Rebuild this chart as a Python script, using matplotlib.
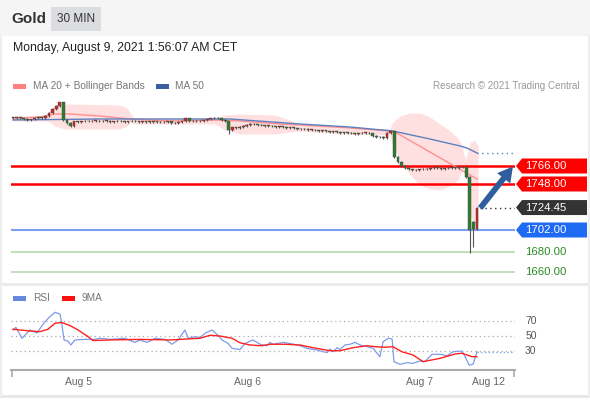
import matplotlib
matplotlib.use('Agg')
import matplotlib.pyplot as plt
import numpy as np
from matplotlib.patches import Rectangle, Polygon
from matplotlib.transforms import blended_transform_factory

plt.rcParams['font.family'] = ['Liberation Sans', 'DejaVu Sans']

W, H = 590, 400

# ---------------- data ----------------
closes = [1814, 1814.5, 1813.5, 1813, 1812, 1812.5, 1814, 1814.5, 1814, 1816,
          1819, 1823, 1826, 1829.5, 1812, 1809, 1806, 1810.5, 1810, 1810.5,
          1811, 1810.5, 1811, 1811, 1810.5, 1811, 1811, 1810, 1810.5, 1811,
          1810.5, 1810, 1810.5, 1811, 1810.5, 1810, 1810, 1810.5, 1810, 1810.5,
          1810, 1809.5, 1810, 1810.5, 1808.5, 1809, 1810, 1810.5, 1813.5, 1811,
          1810.5, 1811, 1810.5, 1811.5, 1812.5, 1813.5, 1814, 1813.5, 1812, 1810.5,
          1802, 1804.5, 1804, 1805, 1806, 1807, 1808, 1807.5, 1807, 1806.5,
          1806, 1806, 1805.5, 1805, 1805.5, 1805, 1804, 1804.5, 1803.5, 1803,
          1802.5, 1803, 1802, 1802, 1801.5, 1801, 1801.5, 1800.5, 1800, 1800.5,
          1799.5, 1799, 1799.5, 1799, 1798.5, 1798, 1798.5, 1799, 1799, 1798.5,
          1796, 1794.5, 1795, 1794, 1799, 1800.5, 1775, 1770, 1766, 1764,
          1762.5, 1762, 1761.5, 1762.5, 1763, 1762.5, 1764, 1764.5, 1764, 1763,
          1763.5, 1764, 1764.5, 1764, 1765, 1764.5, 1755, 1702, 1703, 1724.45]
open_overrides = {128: 1710}
high_overrides = {106: 1801, 127: 1756}
low_overrides = {60: 1798, 127: 1679, 128: 1685}

band_x = [0, 8.9, 10.3, 11.7, 14.5, 29.7, 31.7, 32.8, 33.6, 56.2, 58.9, 63.1, 72.8, 77.0,
          79.8, 92.3, 104.8, 105.6, 107.6, 110.4, 113.2, 115.9, 118.7, 121.5, 123.7,
          124.8, 125.4, 125.9, 126.5, 127.1, 128.2, 129.3]
band_upper = [1816, 1816, 1822, 1826, 1828, 1827, 1824, 1818, 1814, 1814, 1817, 1818, 1817, 1812,
              1807, 1804, 1803, 1810, 1816, 1819, 1819, 1815, 1808, 1801, 1794,
              1787, 1777, 1772, 1782, 1790, 1792, 1787]
band_lower = [1811, 1811, 1810, 1806, 1803, 1803, 1806, 1810, 1808, 1808, 1802, 1798, 1798, 1800,
              1801, 1798, 1797, 1787, 1772, 1757, 1747, 1743, 1742, 1746, 1752,
              1760, 1767, 1764, 1742, 1717, 1707, 1710]

ma20_x = [0, 7.5, 11.7, 15.8, 24.2, 32.5, 43.6, 56.2, 63.1, 74.2, 79.8, 93.7, 104.8, 106.2, 129]
ma20_y = [1814, 1815, 1818, 1818, 1816, 1813, 1811, 1812, 1811, 1808, 1807, 1804, 1801, 1800, 1753]

ma50_x = [0, 24.2, 60.3, 79.8, 93.7, 105.6, 115.9, 124.3, 126.2, 129]
ma50_y = [1812, 1813, 1813, 1808, 1805, 1801, 1793, 1786, 1784, 1779]

rsi_x = [0.0, 0.8, 2.5, 4.7, 5.6, 6.7, 7.5, 8.9, 10.3, 11.7, 13.1, 13.6, 14.2, 15.3, 16.1, 17.2,
         20.0, 22.8, 24.2, 27.0, 31.1, 33.9, 35.3, 37.3, 39.5, 42.3, 44.2, 45.9, 47.8, 48.7,
         50.6, 52.0, 53.4, 55.3, 57.0, 58.1, 59.8, 60.9, 63.1, 64.5, 65.9, 66.7, 68.7, 70.6,
         71.4, 72.3, 75.1, 77.8, 79.8, 81.7, 84.5, 87.3, 88.1, 89.0, 90.1, 90.9, 92.3, 93.7,
         95.1, 96.5, 98.4, 100.1, 102.0, 102.9, 104.3, 105.4, 105.9, 107.6, 109.5, 111.2,
         113.1, 114.5, 116.5, 118.7, 120.7, 122.3, 124.8, 125.7, 126.8, 127.9, 129.0]
rsi_v = [58, 61.6, 47, 58, 56, 54, 60, 69, 76, 81.6, 79, 65, 44.7, 43, 38, 44.7,
         45.5, 45.5, 47, 45.5, 47, 41.5, 44.7, 41.5, 47, 45.5, 39, 44.7, 58, 47,
         49, 48, 53.6, 58, 51, 44.7, 40, 33.6, 32, 40, 43, 44.7, 39, 37,
         41.5, 39, 41.5, 39.3, 37, 33.6, 31.3, 27.8, 32.6, 29, 34.4, 32.2, 38, 39,
         41.5, 38, 35.8, 33.6, 22.4, 42.4, 47, 46, 15.8, 12.2, 14.4, 13.6,
         16.7, 15.8, 25.6, 25.6, 23.7, 29, 30, 22.4, 11.3, 12.2, 29]

ma9_x = [0, 4.7, 7.5, 9.7, 11.7, 13.6, 15.8, 18.1, 20.9, 22.2, 27.0, 35.3, 43.6, 52.0, 54.8,
         57.5, 60.9, 63.1, 65.9, 69.2, 71.4, 75.6, 79.8, 83.4, 88.1, 90.9, 94.5, 98.4,
         100.6, 103.4, 105.6, 108.1, 111.2, 114.0, 118.7, 122.9, 124.8, 127.6, 129.0]
ma9_v = [59, 56.7, 55.8, 59, 67, 68, 64, 58, 49, 44, 44.7, 45.5, 44.7, 47, 51,
         50, 47, 41, 38, 37, 39, 39, 38, 34.4, 30.4, 30.4, 34.4, 37,
         35.8, 35, 35.8, 29, 24.7, 15.8, 20.2, 26, 27, 22.4, 22.4]

tick_pos = [18.1, 65.1, 112.9, 132.1]
tick_labels = ['Aug 5', 'Aug 6', 'Aug 7', 'Aug 12']

res_levels = [1766.00, 1748.00]
sup_level = 1702.00
last_price = 1724.45
green_levels = [1680.00, 1660.00]
rsi_levels = [70, 50, 30]

# ---------------- figure ----------------
fig = plt.figure(figsize=(W / 100, H / 100), dpi=100)
fig.patch.set_facecolor('white')

def fx(x):
    return x / W

def fy(y):
    return 1 - y / H

# header band
fig.patches.append(Rectangle((0, fy(36)), 1, 36 / H, transform=fig.transFigure,
                             facecolor='#f5f5f5', edgecolor='none', zorder=0))
fig.patches.append(Rectangle((fx(51), fy(31)), 50 / W, 24 / H, transform=fig.transFigure,
                             facecolor='#dcdde1', edgecolor='none', zorder=1))
fig.text(fx(11), fy(19), 'Gold', fontsize=11, fontweight='bold', color='#333333', va='center')
fig.text(fx(76), fy(19), '30 MIN', fontsize=8.5, color='#333333', va='center', ha='center')
fig.text(fx(13), fy(48), 'Monday, August 9, 2021 1:56:07 AM CET', fontsize=8.8,
         color='#222222', va='center')

# separators / frame
fig.add_artist(plt.Line2D([0, 1], [fy(284), fy(284)], transform=fig.transFigure,
                          color='#eaeaea', lw=2))
fig.add_artist(plt.Line2D([0, 1], [fy(396), fy(396)], transform=fig.transFigure,
                          color='#e6e6e6', lw=2))
fig.add_artist(plt.Line2D([fx(1), fx(1)], [fy(36), fy(396)], transform=fig.transFigure,
                          color='#eeeeee', lw=1.5))
fig.add_artist(plt.Line2D([fx(589), fx(589)], [fy(36), fy(396)], transform=fig.transFigure,
                          color='#eeeeee', lw=1.5))

# legends
def swatch(x, y, color):
    fig.patches.append(Rectangle((fx(x), fy(y + 2.5)), 13 / W, 5 / H, transform=fig.transFigure,
                                 facecolor=color, edgecolor='none'))

swatch(13, 86, '#ff8080')
fig.text(fx(33), fy(86), 'MA 20 + Bollinger Bands', fontsize=7.3, color='#777777', va='center')
swatch(156, 86, '#3a5fa0')
fig.text(fx(175), fy(86), 'MA 50', fontsize=7.3, color='#777777', va='center')
fig.text(fx(580), fy(86), 'Research \u00a9 2021 Trading Central', fontsize=7.1, color='#999999',
         va='center', ha='right')
swatch(13, 298, '#6688dd')
fig.text(fx(33), fy(298), 'RSI', fontsize=7.3, color='#777777', va='center')
swatch(62, 298, '#ff1010')
fig.text(fx(82), fy(298), '9MA', fontsize=7.3, color='#777777', va='center')

# ---------------- main price axes ----------------
XL = (-0.556, 139.56)
ax = fig.add_axes([fx(11), fy(285), 504 / W, 205 / H])
ax.set_xlim(*XL)
ax.set_ylim(1647, 1852)
ax.axis('off')
tr = blended_transform_factory(ax.transAxes, ax.transData)

ax.fill_between(band_x, band_lower, band_upper, color='#ffe0e0', lw=0, zorder=1)
ax.plot(ma20_x, ma20_y, color='#ff9090', lw=1.0, zorder=3)
ax.plot(ma50_x, ma50_y, color='#5f7fc0', lw=1.0, zorder=3)
ax.plot([ma50_x[-1], XL[1]], [ma50_y[-1], ma50_y[-1]], color='#5f7fc0', lw=1.0,
        ls=(0, (1, 2.5)), zorder=3)

n = len(closes)
xs = np.arange(n)
opens = [closes[0]] + closes[:-1]
for k, v in open_overrides.items():
    opens[k] = v
for i in range(n):
    o, c = opens[i], closes[i]
    hi = high_overrides.get(i, max(o, c) + 0.8)
    lo = low_overrides.get(i, min(o, c) - 0.8)
    up = c >= o
    col = '#cc2a2a' if up else '#2e7d2e'
    ax.vlines(xs[i], lo, hi, color='#555555', lw=0.8, zorder=4)
    h = max(abs(c - o), 0.9)
    ax.bar(xs[i], h, bottom=min(o, c), width=0.75, color=col, edgecolor='#444444',
           linewidth=0.3, zorder=5)

# levels
for lv in res_levels:
    ax.axhline(lv, color='#ff0000', lw=1.8, zorder=2)
ax.axhline(sup_level, color='#7b9ff0', lw=1.5, zorder=2)
for lv in green_levels:
    ax.axhline(lv, color='#b9d9ae', lw=1.2, zorder=2)
ax.plot([n - 0.2, XL[1]], [last_price, last_price], color='#333333', lw=1.0,
        ls=(0, (1, 2.5)), zorder=3)

# arrow
ax.annotate('', xy=(139.0, 1765.5), xytext=(129.9, 1724),
            arrowprops=dict(arrowstyle='simple,head_length=0.9,head_width=1.0,tail_width=0.35',
                            color='#2f5e9e', lw=0, shrinkA=0, shrinkB=0,
                            mutation_scale=12), zorder=6)

# tags
def tag(price, color, text_color='white'):
    pts = [(1.002, price), (1.0139, price + 7.5), (1.1429, price + 7.5),
           (1.1429, price - 7.5), (1.0139, price - 7.5)]
    ax.add_patch(Polygon(pts, closed=True, transform=tr, facecolor=color,
                         edgecolor='none', clip_on=False, zorder=7))
    ax.text(1.0198, price, '%.2f' % price, transform=tr, color=text_color, fontsize=8.2,
            va='center', ha='left', clip_on=False, zorder=8)

for lv in res_levels:
    tag(lv, '#ff0000')
tag(last_price, '#333333')
tag(sup_level, '#1f6af2')
for lv in green_levels:
    ax.text(1.0198, lv, '%.2f' % lv, transform=tr, color='#2a8a22', fontsize=8.2,
            va='center', ha='left', clip_on=False)

# ---------------- RSI axes ----------------
ax2 = fig.add_axes([fx(11), fy(370), 504 / W, 70 / H])
ax2.set_xlim(*XL)
ax2.set_ylim(4.67, 98)
for s in ['top', 'left', 'right']:
    ax2.spines[s].set_visible(False)
ax2.spines['bottom'].set_color('#aaaaaa')
ax2.spines['bottom'].set_linewidth(1.5)
ax2.set_yticks([])
ax2.set_xticks(tick_pos)
ax2.set_xticklabels(tick_labels)
ax2.tick_params(axis='x', length=0, labelsize=7.5, labelcolor='#666666', pad=5)
ax2.set_xticks([XL[0] + 0.3, XL[1] - 0.3], minor=True)
ax2.tick_params(axis='x', which='minor', length=5, width=1.2, color='#aaaaaa')
ax2.patch.set_alpha(0)
tr2 = blended_transform_factory(ax2.transAxes, ax2.transData)
for lv in rsi_levels:
    ax2.axhline(lv, color='#aaaaaa', lw=0.9, ls=(0, (1, 2.5)), zorder=1)
    ax2.text(1.02, lv, str(lv), transform=tr2, fontsize=7.5, color='#555555',
             va='center', ha='left', clip_on=False)
ax2.plot(rsi_x, rsi_v, color='#7d9be8', lw=0.9, zorder=3)
ax2.plot(ma9_x, ma9_v, color='#ff2020', lw=1.0, zorder=4)
ax2.plot([rsi_x[-1], XL[1]], [rsi_v[-1], rsi_v[-1]], color='#7d9be8', lw=0.9,
         ls=(0, (1, 2)), zorder=3)

fig.savefig('out.png', dpi=100)
